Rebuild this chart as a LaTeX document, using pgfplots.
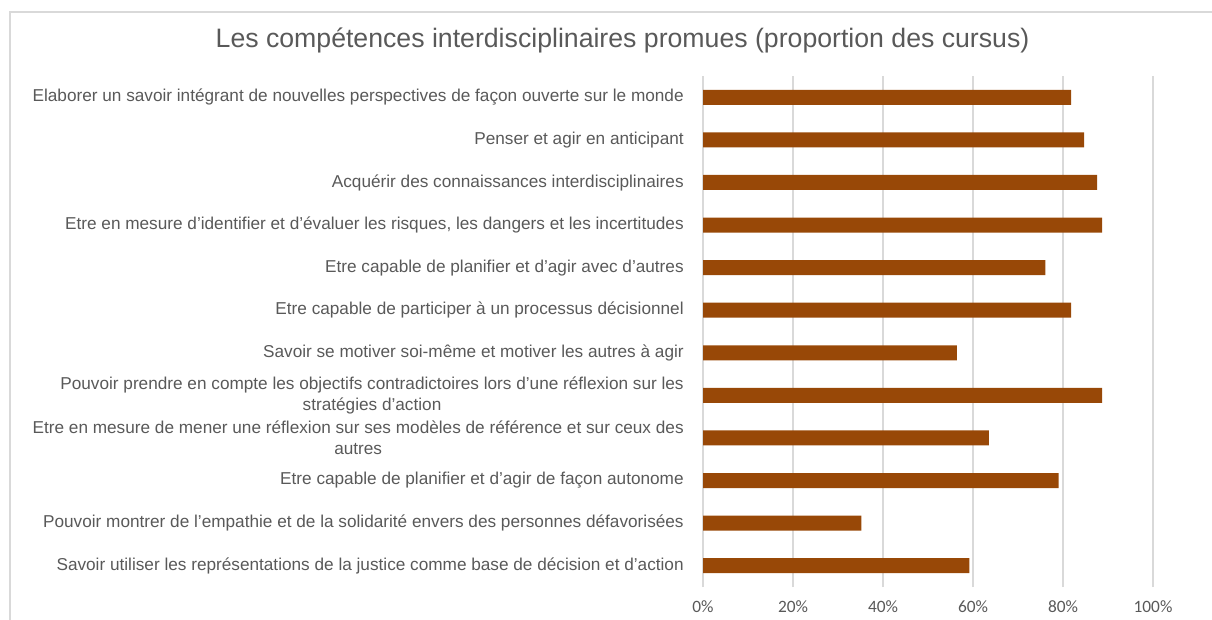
\documentclass[border=0pt]{standalone}
\usepackage{pgfplots}
\pgfplotsset{compat=1.18}
\usepackage{fontspec}
\setmainfont{Liberation Sans}
\newfontfamily\tickfont{Carlito}
\definecolor{barc}{HTML}{984807}
\definecolor{txt}{HTML}{595959}
\definecolor{grd}{HTML}{D9D9D9}
\begin{document}
\begin{tikzpicture}
\path[use as bounding box] (0,0) rectangle (909pt,464.25pt);
\draw[grd, line width=1pt] (7.5pt,-5pt) -- (7.5pt,455.25pt) -- (915pt,455.25pt);
\node[anchor=base, text=txt, inner sep=0pt, font=\fontsize{20}{24}\selectfont] at (466.9pt,428.25pt) {Les compétences interdisciplinaires promues (proportion des cursus)};
\begin{axis}[
  at={(527.25pt,24pt)}, anchor=south west,
  scale only axis, width=337.5pt, height=383.25pt,
  xbar, bar width=11.25pt,
  xmin=0, xmax=100, ymin=0.5, ymax=12.5,
  axis line style={draw=none},
  tick style={draw=none},
  xmajorgrids, grid style={draw=grd, line width=1pt},
  xtick={0,20,40,60,80,100},
  xticklabels={0\%,20\%,40\%,60\%,80\%,100\%},
  xticklabel style={anchor=center, yshift=-15pt, inner sep=0pt, text=txt, font=\tickfont\fontsize{13}{15}\selectfont},
  ytick={1,...,12},
  yticklabels={
    {Savoir utiliser les représentations de la justice comme base de décision et d’action},
    {Pouvoir montrer de l’empathie et de la solidarité envers des personnes défavorisées},
    {Etre capable de planifier et d’agir de façon autonome},
    {Etre en mesure de mener une réflexion sur ses modèles de référence et sur ceux des\\autres},
    {Pouvoir prendre en compte les objectifs contradictoires lors d’une réflexion sur les\\stratégies d’action},
    {Savoir se motiver soi-même et motiver les autres à agir},
    {Etre capable de participer à un processus décisionnel},
    {Etre capable de planifier et d’agir avec d’autres},
    {Etre en mesure d’identifier et d’évaluer les risques, les dangers et les incertitudes},
    {Acquérir des connaissances interdisciplinaires},
    {Penser et agir en anticipant},
    {Elaborer un savoir intégrant de nouvelles perspectives de façon ouverte sur le monde}
  },
  yticklabel style={anchor=east, xshift=-10pt, inner sep=0pt, align=center, text=txt, font=\fontsize{12.9}{15.75}\selectfont},
]
\addplot[fill=barc, draw=none] coordinates {
  (59.2,1) (35.2,2) (79.0,3) (63.5,4) (88.7,5) (56.4,6)
  (81.8,7) (76.1,8) (88.7,9) (87.6,10) (84.7,11) (81.8,12)
};
\end{axis}
\end{tikzpicture}
\end{document}
